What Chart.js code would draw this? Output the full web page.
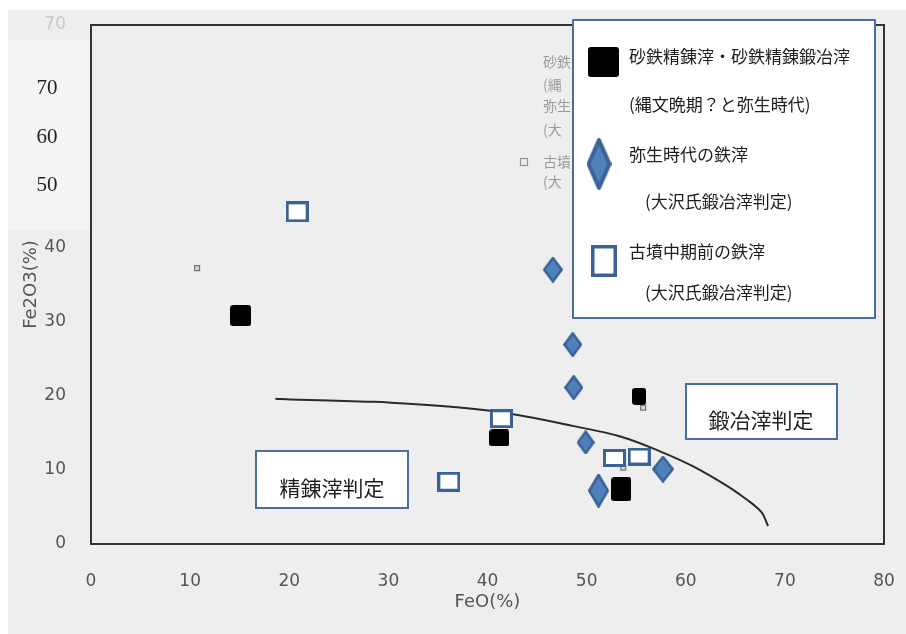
<!DOCTYPE html>
<html><head><meta charset="utf-8">
<script src="https://cdn.jsdelivr.net/npm/chart.js@4.4.1/dist/chart.umd.min.js"></script>
<style>html,body{margin:0;padding:0;background:#fff;}canvas{display:block;}</style>
</head><body>
<canvas id="c" width="906" height="634"></canvas>
<script>
// ---- data ----
const xTicks = [0, 10, 20, 30, 40, 50, 60, 70, 80];
const yTicks = [0, 10, 20, 30, 40, 50, 60, 70];
const overlayYLabels = ['70', '60', '50'];
const xTitle = 'FeO(%)';
const yTitle = 'Fe2O3(%)';
const seriesNames = ['砂鉄精錬滓・砂鉄精錬鍛冶滓', '弥生時代の鉄滓', '古墳中期前の鉄滓'];
const seriesNotes = ['(縄文晩期？と弥生時代)', '(大沢氏鍛冶滓判定)', '(大沢氏鍛冶滓判定)'];
const regionLabels = ['精錬滓判定', '鍛冶滓判定'];
const scanLegendFragments = ['砂鉄', '(縄', '弥生', '(大', '古墳', '(大'];

const sandIronFeO   = [15.1, 41.2, 55.3, 53.5];
const sandIronFe2O3 = [30.8, 14.3, 19.9, 7.4];
const yayoiFeO      = [46.6, 48.6, 48.7, 49.9, 51.2, 57.7];
const yayoiFe2O3    = [37.0, 26.9, 21.1, 13.7, 7.2, 10.1];
const kofunFeO      = [20.8, 41.4, 36.1, 52.8, 55.3];
const kofunFe2O3    = [44.8, 16.9, 8.4, 11.6, 11.8];
const originalFeO   = [10.7, 55.7, 53.7];
const originalFe2O3 = [37.2, 18.4, 10.3];
const boundaryFeO   = [18.6, 20.1, 27.9, 30, 37.2, 42.6, 48.7, 53.4, 57.4, 60.7, 64.2, 66.5, 67.1, 67.7, 68.0, 68.3];
const boundaryFe2O3 = [19.6, 19.5, 19.2, 19.1, 18.4, 17.5, 15.9, 14.5, 12.5, 10.5, 7.8, 5.65, 5.0, 4.2, 3.4, 2.4];

// ---- marker styles (sizes in px, separate from data) ----
const blackSizes = [[21, 21], [20, 17], [14, 17], [20, 24]];
const diamondSizes = [[20, 26], [19, 25], [19, 25], [18, 24], [21, 34], [22, 27]];
const openSizes = [[23, 21], [23, 19], [23, 20], [23, 18], [23, 18]];

const BLUE_FILL = '#4f81bd', BLUE_LINE = '#3a6296', BOX_LINE = '#4a6ea3';
const CJK = '"Noto Sans CJK JP", "Noto Sans CJK SC", sans-serif';

function marker(kind, w, h, lw) {
  const c = document.createElement('canvas');
  c.width = w; c.height = h;
  const g = c.getContext('2d');
  const i = lw / 2;
  if (kind === 'black') {
    g.fillStyle = '#000';
    g.beginPath();
    if (g.roundRect) g.roundRect(0, 0, w, h, 3); else g.rect(0, 0, w, h);
    g.fill();
  } else if (kind === 'diamond') {
    g.beginPath();
    g.moveTo(w / 2, i); g.lineTo(w - i, h / 2); g.lineTo(w / 2, h - i); g.lineTo(i, h / 2);
    g.closePath();
    g.fillStyle = BLUE_FILL; g.fill();
    g.lineWidth = lw; g.strokeStyle = BLUE_LINE; g.lineJoin = 'round'; g.stroke();
  } else {
    g.fillStyle = '#fff'; g.fillRect(i, i, w - lw, h - lw);
    g.lineWidth = lw; g.strokeStyle = BLUE_LINE; g.strokeRect(i, i, w - lw, h - lw);
  }
  return c;
}
const pts = (xs, ys) => xs.map((x, k) => ({x: x, y: ys[k]}));

const scanPlugin = {
  id: 'scan',
  beforeDraw(chart) {
    const ctx = chart.ctx;
    ctx.save();
    ctx.fillStyle = '#fff'; ctx.fillRect(0, 0, chart.width, chart.height);
    ctx.fillStyle = '#eeeeee'; ctx.fillRect(8, 10, chart.width - 8, chart.height - 10);
    // faint remnants of the scanned original legend
    ctx.fillStyle = 'rgba(90,90,90,0.55)';
    ctx.font = '14px ' + CJK;
    ctx.textBaseline = 'middle';
    const ys = [62, 85, 106, 130, 162, 182];
    scanLegendFragments.forEach((t, k) => ctx.fillText(t, 543, ys[k]));
    ctx.strokeStyle = 'rgba(90,90,90,0.6)'; ctx.lineWidth = 1.2;
    ctx.strokeRect(520.5, 158.5, 7, 7);
    ctx.restore();
  },
  beforeDatasetsDraw(chart) {
    const {ctx, chartArea: a} = chart;
    ctx.save();
    ctx.strokeStyle = '#333'; ctx.lineWidth = 2;
    ctx.beginPath();
    ctx.moveTo(a.left, a.top); ctx.lineTo(a.right, a.top); ctx.lineTo(a.right, a.bottom);
    ctx.stroke();
    ctx.restore();
  },
  afterDraw(chart) {
    const ctx = chart.ctx;
    ctx.save();
    // pasted patch with new tick labels
    ctx.fillStyle = '#f4f4f4'; ctx.fillRect(8, 40, 82, 190);
    ctx.fillStyle = '#222';
    ctx.font = '21px "Liberation Serif", "DejaVu Serif", serif';
    ctx.textAlign = 'center'; ctx.textBaseline = 'middle';
    const py = [88, 137, 185];
    overlayYLabels.forEach((t, k) => ctx.fillText(t, 47, py[k]));

    // region label boxes
    const boxes = [[256, 451, 152, 57, 332, 488], [686, 384, 151, 55, 761, 420]];
    ctx.font = '21px ' + CJK;
    boxes.forEach((b, k) => {
      ctx.fillStyle = '#fff'; ctx.fillRect(b[0], b[1], b[2], b[3]);
      ctx.strokeStyle = BOX_LINE; ctx.lineWidth = 2; ctx.strokeRect(b[0], b[1], b[2], b[3]);
      ctx.fillStyle = '#1e1e1e'; ctx.fillText(regionLabels[k], b[4], b[5]);
    });

    // legend
    ctx.fillStyle = '#fff'; ctx.fillRect(573, 20, 302, 298);
    ctx.strokeStyle = BOX_LINE; ctx.lineWidth = 2; ctx.strokeRect(573, 20, 302, 298);
    const icons = [marker('black', 31, 30, 0), marker('diamond', 25, 52, 4), marker('open', 26, 32, 3.5)];
    const ic = [[603.5, 62], [599, 164], [604, 261]];
    icons.forEach((im, k) => ctx.drawImage(im, ic[k][0] - im.width / 2, ic[k][1] - im.height / 2));
    ctx.textAlign = 'left'; ctx.fillStyle = '#1e1e1e';
    ctx.font = '17px ' + CJK;
    const nameY = [57, 155, 252], noteY = [105, 202, 293], noteX = [629, 645, 645];
    seriesNames.forEach((t, k) => ctx.fillText(t, 629, nameY[k]));
    seriesNotes.forEach((t, k) => ctx.fillText(t, noteX[k], noteY[k]));
    ctx.restore();
  }
};

new Chart(document.getElementById('c'), {
  type: 'scatter',
  data: {
    datasets: [
      {label: seriesNames[0], data: pts(sandIronFeO, sandIronFe2O3),
       pointStyle: blackSizes.map(s => marker('black', s[0], s[1], 0)), pointRadius: 10, pointHoverRadius: 10},
      {label: seriesNames[1], data: pts(yayoiFeO, yayoiFe2O3),
       pointStyle: diamondSizes.map(s => marker('diamond', s[0], s[1], 2.5)), pointRadius: 10, pointHoverRadius: 10},
      {label: seriesNames[2], data: pts(kofunFeO, kofunFe2O3),
       pointStyle: openSizes.map(s => marker('open', s[0], s[1], 3)), pointRadius: 10, pointHoverRadius: 10},
      {label: 'original', data: pts(originalFeO, originalFe2O3), pointStyle: 'rect', pointRadius: 3.5,
       backgroundColor: 'rgba(205,205,205,0.8)', borderColor: 'rgba(90,90,90,0.8)', borderWidth: 1.2},
      {label: 'boundary', data: pts(boundaryFeO, boundaryFe2O3), showLine: true, pointRadius: 0,
       borderColor: '#2a2a2a', borderWidth: 2, tension: 0.4, fill: false}
    ]
  },
  options: {
    responsive: false, animation: false, events: [],
    layout: {padding: {left: 0, right: 22, top: 25, bottom: 0}},
    plugins: {legend: {display: false}, tooltip: {enabled: false}},
    scales: {
      x: {
        type: 'linear', min: 0, max: 80,
        afterBuildTicks: s => { s.ticks = xTicks.map(v => ({value: v})); },
        afterFit: s => { s.height = 90; s.paddingLeft = 0; s.paddingRight = 0; },
        grid: {display: false},
        border: {display: true, color: '#333', width: 2},
        ticks: {padding: 19, color: '#555', font: {family: 'DejaVu Sans', size: 17}},
        title: {display: true, text: xTitle, color: '#555', font: {family: 'DejaVu Sans', size: 18}, padding: {top: 0, bottom: 21}}
      },
      y: {
        type: 'linear', min: 0, max: 70,
        afterBuildTicks: s => { s.ticks = yTicks.map(v => ({value: v})); },
        afterFit: s => { s.width = 91; s.paddingTop = 0; s.paddingBottom = 0; },
        grid: {display: false},
        border: {display: true, color: '#333', width: 2},
        ticks: {padding: 17, font: {family: 'DejaVu Sans', size: 17},
                color: c => (c.tick && c.tick.value === 70) ? '#c8c8c8' : '#555'},
        title: {display: true, text: yTitle, color: '#555', font: {family: 'DejaVu Sans', size: 18}, padding: {top: 21, bottom: 0}}
      }
    }
  },
  plugins: [scanPlugin]
});
</script>
</body></html>
